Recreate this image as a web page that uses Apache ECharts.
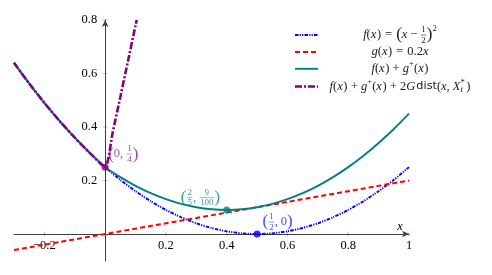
<!DOCTYPE html>
<html><head><meta charset="utf-8">
<script src="https://cdn.jsdelivr.net/npm/echarts@6/dist/echarts.min.js"></script>
<style>html,body{margin:0;padding:0;background:#fff}#c{width:492px;height:275px}</style>
</head><body><div id="c"></div>
<script>
// ---- data ----
const xSamples = [-0.3,-0.25,-0.2,-0.15,-0.1,-0.05,0,0.05,0.1,0.15,0.2,0.25,0.3,0.35,0.4,0.45,0.5,0.55,0.6,0.65,0.7,0.75,0.8,0.85,0.9,0.95,1];
const fValues = [0.64,0.5625,0.49,0.4225,0.36,0.3025,0.25,0.2025,0.16,0.1225,0.09,0.0625,0.04,0.0225,0.01,0.0025,0,0.0025,0.01,0.0225,0.04,0.0625,0.09,0.1225,0.16,0.2025,0.25];
const fgValues = [0.64,0.5625,0.49,0.4225,0.36,0.3025,0.25,0.2125,0.18,0.1525,0.13,0.1125,0.1,0.0925,0.09,0.0925,0.1,0.1125,0.13,0.1525,0.18,0.2125,0.25,0.2925,0.34,0.3925,0.45];
const gX = [-0.3, 1];
const gValues = [-0.06, 0.2];
const distX = [-0.3,-0.25,-0.2,-0.15,-0.1,-0.05,0,0.025,0.05,0.075,0.1,0.104];
const distValues = [0.64,0.5625,0.49,0.4225,0.36,0.3025,0.25,0.381,0.5125,0.646,0.78,0.8];
const pointX = [0, 0.4, 0.5];
const pointY = [0.25, 0.09, 0];
const xTicks = [-0.2, 0.2, 0.4, 0.6, 0.8, 1];
const yTicks = [0.2, 0.4, 0.6, 0.8];

const BLUE = '#0000ff', RED = '#ff0000', TEAL = '#008080', PURPLE = '#800080';
const FONT = 'Liberation Serif';
const SANS = 'DejaVu Sans';
const FS = 12.5;

const DASH_BLUE = [3.5, 1.2, 1.2, 1.2, 1.2, 1.2];
const DASH_RED = [5, 3];
const DASH_PURPLE = [7, 2, 2, 2];

const zip = (xs, ys) => xs.map((x, i) => [x, ys[i]]);
const fmt = v => (v < 0 ? '\u2212' + (-v) : String(v));

const chart = echarts.init(document.getElementById('c'), null, {renderer: 'canvas'});

chart.setOption({
  animation: false,
  backgroundColor: '#fff',
  grid: {left: 14, right: 83, top: 20, bottom: 14.25, containLabel: false, outerBoundsMode: 'none'},
  xAxis: {
    type: 'value', min: -0.3, max: 1, splitLine: {show: false},
    axisLine: {onZero: true, symbol: ['none', 'arrow'], symbolSize: [5, 7], lineStyle: {color: '#404040', width: 1}},
    axisTick: {show: false},
    axisLabel: {show: false}
  },
  yAxis: {
    type: 'value', min: -0.1, max: 0.8, splitLine: {show: false},
    axisLine: {onZero: true, symbol: ['none', 'arrow'], symbolSize: [5, 7], lineStyle: {color: '#404040', width: 1}},
    axisTick: {show: false},
    axisLabel: {show: false}
  },
  series: [
    {type: 'line', name: 'f', data: zip(xSamples, fValues), showSymbol: false, symbol: 'none', smooth: 0.2,
      lineStyle: {color: BLUE, width: 1.9, type: DASH_BLUE}, z: 2},
    {type: 'line', name: 'g', data: zip(gX, gValues), showSymbol: false, symbol: 'none',
      lineStyle: {color: RED, width: 2, type: DASH_RED}, z: 3},
    {type: 'line', name: 'fg', data: zip(xSamples, fgValues), showSymbol: false, symbol: 'none', smooth: 0.2,
      lineStyle: {color: TEAL, width: 1.9}, z: 4},
    {type: 'line', name: 'dist', data: zip(distX, distValues), showSymbol: false, symbol: 'none', smooth: 0.2,
      lineStyle: {color: PURPLE, width: 2.6, type: DASH_PURPLE}, z: 5},
    {type: 'scatter', data: [[pointX[0], pointY[0]]], symbolSize: 7, itemStyle: {color: PURPLE}, z: 6},
    {type: 'scatter', data: [[pointX[1], pointY[1]]], symbolSize: 7, itemStyle: {color: TEAL}, z: 6},
    {type: 'scatter', data: [[pointX[2], pointY[2]]], symbolSize: 7, itemStyle: {color: BLUE}, z: 6}
  ]
});

// ---- math-like text builder ----
const mctx = document.createElement('canvas').getContext('2d');
function measure(t, size, italic, fam) {
  mctx.font = (italic ? 'italic ' : '') + size + 'px ' + (fam || FONT);
  return mctx.measureText(t).width;
}
function mathText(parts, x, cy, align, color, size) {
  const items = [];
  let w = 0;
  parts.forEach(p => {
    if (p.sp !== undefined) { items.push({p, w: p.sp}); w += p.sp; return; }
    if (p.num !== undefined) {
      const fs = size * 0.72;
      const fw = Math.max(measure(p.num, fs), measure(p.den, fs)) + 2;
      items.push({p, w: fw, fs}); w += fw; return;
    }
    const fs = size * (p.s || 1);
    const ww = measure(p.t, fs, p.i, p.f);
    const adv = p.noAdv ? 0 : ww;
    items.push({p, w: adv, fs}); w += adv;
  });
  let cx = align === 'center' ? x - w / 2 : align === 'right' ? x - w : x;
  const els = [];
  items.forEach(it => {
    const p = it.p;
    if (p.sp !== undefined) { cx += it.w; return; }
    if (p.num !== undefined) {
      els.push({type: 'text', x: cx + it.w / 2, y: cy - 0.6, silent: true,
        style: {text: p.num, fontSize: it.fs, fontFamily: FONT, fill: color, align: 'center', verticalAlign: 'bottom'}});
      els.push({type: 'line', silent: true, shape: {x1: cx + 0.5, y1: cy, x2: cx + it.w - 0.5, y2: cy},
        style: {stroke: color, lineWidth: 0.6}});
      els.push({type: 'text', x: cx + it.w / 2, y: cy + 0.8, silent: true,
        style: {text: p.den, fontSize: it.fs, fontFamily: FONT, fill: color, align: 'center', verticalAlign: 'top'}});
    } else {
      els.push({type: 'text', x: cx, y: cy + (p.dy || 0), silent: true,
        style: {text: p.t, fontSize: it.fs, fontStyle: p.i ? 'italic' : 'normal', fontFamily: p.f || FONT,
          fill: color, align: 'left', verticalAlign: 'middle'}});
    }
    cx += it.w;
  });
  return els;
}

const T = (t, o) => Object.assign({t}, o || {});
const I = (t, o) => Object.assign({t, i: true}, o || {});
const SP = n => ({sp: n});
const BIG = 1.35;
const fx = [I('f'), T('('), I('x'), SP(0.6), T(')')];
const gpx = [I('g'), T('+', {s: 0.7, dy: -5}), T('('), I('x'), SP(0.6), T(')')];
const plus = [SP(3.2), T('+'), SP(3.2)];
const eq = [SP(4), T('='), SP(4)];

const legendRows = [
  {color: BLUE, dash: DASH_BLUE, width: 1.9,
    parts: [...fx, ...eq, T('(', {s: BIG}), I('x'), SP(3), T('\u2212'), SP(3), {num: '1', den: '2'}, T(')', {s: BIG}), T('2', {s: 0.7, dy: -6})]},
  {color: RED, dash: DASH_RED, width: 2,
    parts: [I('g'), T('('), I('x'), SP(0.6), T(')'), ...eq, T('0.2'), I('x')]},
  {color: TEAL, dash: null, width: 1.9,
    parts: [...fx, ...plus, ...gpx]},
  {color: PURPLE, dash: DASH_PURPLE, width: 2.6,
    parts: [...fx, ...plus, ...gpx, ...plus, T('2'), I('G'), SP(1), T('dist', {f: SANS, s: 0.9}), T('('), I('x'), T(','), SP(3), I('X'),
      I('t', {s: 0.7, dy: 3.5, noAdv: true}), T('*', {s: 0.7, dy: -4}), SP(1.5), T(')')]}
];
const legendY = [35, 52, 68.8, 86.5];

function buildGraphics() {
  const els = [];
  xTicks.forEach(v => {
    const p = chart.convertToPixel({gridIndex: 0}, [v, 0]);
    els.push({type: 'line', silent: true, shape: {x1: p[0], y1: p[1] - 2.5, x2: p[0], y2: p[1] + 2.5}, style: {stroke: '#b0b0b0', lineWidth: 0.8}});
    els.push({type: 'text', x: p[0], y: p[1] + 12, silent: true,
      style: {text: fmt(v), fontSize: FS, fontFamily: FONT, fill: '#000', align: 'center', verticalAlign: 'middle'}});
  });
  yTicks.forEach(v => {
    const p = chart.convertToPixel({gridIndex: 0}, [0, v]);
    els.push({type: 'line', silent: true, shape: {x1: p[0] - 2.5, y1: p[1], x2: p[0] + 2.5, y2: p[1]}, style: {stroke: '#b0b0b0', lineWidth: 0.8}});
    els.push({type: 'text', x: p[0] - 8, y: p[1], silent: true,
      style: {text: fmt(v), fontSize: FS, fontFamily: FONT, fill: '#000', align: 'right', verticalAlign: 'middle'}});
  });
  legendRows.forEach((r, k) => {
    const y = legendY[k];
    els.push({type: 'line', silent: true, shape: {x1: 295, y1: y, x2: 318, y2: y},
      style: {stroke: r.color, lineWidth: r.width, lineDash: r.dash || null}});
    mathText(r.parts, 400, y, 'center', '#1a1a1a', FS).forEach(e => els.push(e));
  });
  const p0 = chart.convertToPixel({gridIndex: 0}, [pointX[0], pointY[0]]);
  const p1 = chart.convertToPixel({gridIndex: 0}, [pointX[1], pointY[1]]);
  const p2 = chart.convertToPixel({gridIndex: 0}, [pointX[2], pointY[2]]);
  mathText([T('(', {s: BIG}), T('0,'), SP(3), {num: '1', den: '4'}, T(')', {s: BIG})],
    p0[0] + 3, p0[1] - 13, 'left', '#a050a0', FS).forEach(e => els.push(e));
  mathText([T('(', {s: BIG}), {num: '2', den: '5'}, T(','), SP(3), {num: '9', den: '100'}, T(')', {s: BIG})],
    p1[0] - 6.5, p1[1] - 12.5, 'right', '#3a9a9a', FS).forEach(e => els.push(e));
  mathText([T('(', {s: BIG}), {num: '1', den: '2'}, T(','), SP(3), T('0'), T(')', {s: BIG})],
    p2[0] + 5.5, p2[1] - 12, 'left', '#4a4aff', FS).forEach(e => els.push(e));
  const ax = chart.convertToPixel({gridIndex: 0}, [1, 0]);
  els.push({type: 'text', x: ax[0] - 9, y: ax[1] - 7, silent: true,
    style: {text: 'x', fontSize: FS, fontStyle: 'italic', fontFamily: FONT, fill: '#000', align: 'center', verticalAlign: 'middle'}});
  return els;
}
chart.setOption({graphic: {elements: buildGraphics()}});
</script>
</body></html>
